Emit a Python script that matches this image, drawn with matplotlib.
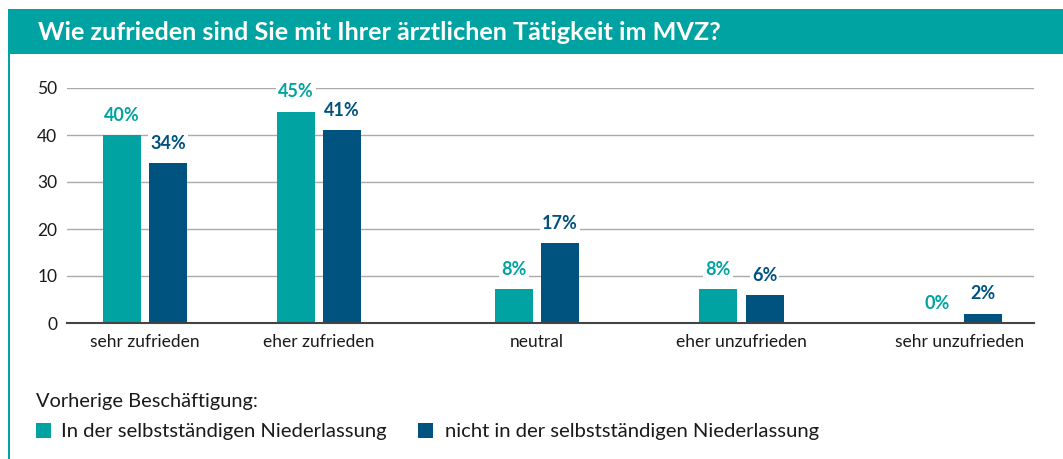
import matplotlib.pyplot as plt
from matplotlib.patches import Rectangle

plt.rcParams['font.family'] = ['Lato', 'DejaVu Sans']

# data
categories = ['sehr zufrieden', 'eher zufrieden', 'neutral', 'eher unzufrieden', 'sehr unzufrieden']
selbst = [40, 45, 7.3, 7.2, 0]          # In der selbstständigen Niederlassung
nicht_selbst = [34, 41, 17, 6, 2]       # nicht in der selbstständigen Niederlassung
selbst_labels = ['40%', '45%', '8%', '8%', '0%']
nicht_labels = ['34%', '41%', '17%', '6%', '2%']
series_names = ['In der selbstständigen Niederlassung', 'nicht in der selbstständigen Niederlassung']

# layout (group centres are unevenly spaced in the original)
centers = [0, 1, 2.253, 3.428, 4.684]
bar_w = 0.218
off = 0.133

TEAL = '#00A3A1'
BLUE = '#00527F'

fig = plt.figure(figsize=(10.63, 4.59), dpi=100)

# title bar and left border
fig.add_artist(Rectangle((8 / 1063, 1 - 54 / 459), 1 - 8 / 1063, 45 / 459,
                         transform=fig.transFigure, color=TEAL, lw=0))
fig.add_artist(Rectangle((8 / 1063, 0), 2 / 1063, 1 - 54 / 459,
                         transform=fig.transFigure, color=TEAL, lw=0))
fig.text(38 / 1063, 1 - 33 / 459, 'Wie zufrieden sind Sie mit Ihrer ärztlichen Tätigkeit im MVZ?',
         color='white', fontsize=18.2, fontweight='bold', va='center', ha='left')

ax = fig.add_axes([67 / 1063, 1 - 323 / 459, (1034 - 67) / 1063, (323 - 88) / 459])

x1 = [c - off for c in centers]
x2 = [c + off for c in centers]
ax.bar(x1, selbst, width=bar_w, color=TEAL, zorder=2)
ax.bar(x2, nicht_selbst, width=bar_w, color=BLUE, zorder=2)

for xs, vals, labs, col in [(x1, selbst, selbst_labels, TEAL), (x2, nicht_selbst, nicht_labels, BLUE)]:
    for x, v, lab in zip(xs, vals, labs):
        ax.annotate(lab, (x, v), xytext=(0, 8), textcoords='offset points',
                    ha='center', va='bottom', fontsize=13, fontweight='bold', color=col,
                    bbox=dict(facecolor='white', edgecolor='none', pad=1.5), zorder=3)

ax.set_xlim(-0.448, 5.109)
ax.set_ylim(0, 50)
ax.set_yticks([0, 10, 20, 30, 40, 50])
ax.set_xticks(centers)
ax.set_xticklabels(categories)
ax.yaxis.grid(True, color='#AAAAAA', lw=1)
ax.set_axisbelow(True)
for s in ['top', 'right', 'left']:
    ax.spines[s].set_visible(False)
ax.spines['bottom'].set_color('#444444')
ax.spines['bottom'].set_linewidth(1.5)
ax.spines['bottom'].set_zorder(4)
ax.tick_params(axis='both', length=0, labelsize=12.5, colors='#1a1a1a')
ax.tick_params(axis='y', pad=7)
ax.tick_params(axis='x', pad=8)

# legend
fig.text(36 / 1063, 1 - 402 / 459, 'Vorherige Beschäftigung:', fontsize=14.4, va='center', color='#1a1a1a')
leg_items = [(36, 61, TEAL), (418, 445, BLUE)]
for (sx, tx, col), name in zip(leg_items, series_names):
    fig.add_artist(Rectangle((sx / 1063, 1 - 438 / 459), 15 / 1063, 15 / 459,
                             transform=fig.transFigure, color=col, lw=0))
    fig.text(tx / 1063, 1 - 431 / 459, name, fontsize=14.6, va='center', color='#1a1a1a')

fig.savefig('out.png', dpi=100)
